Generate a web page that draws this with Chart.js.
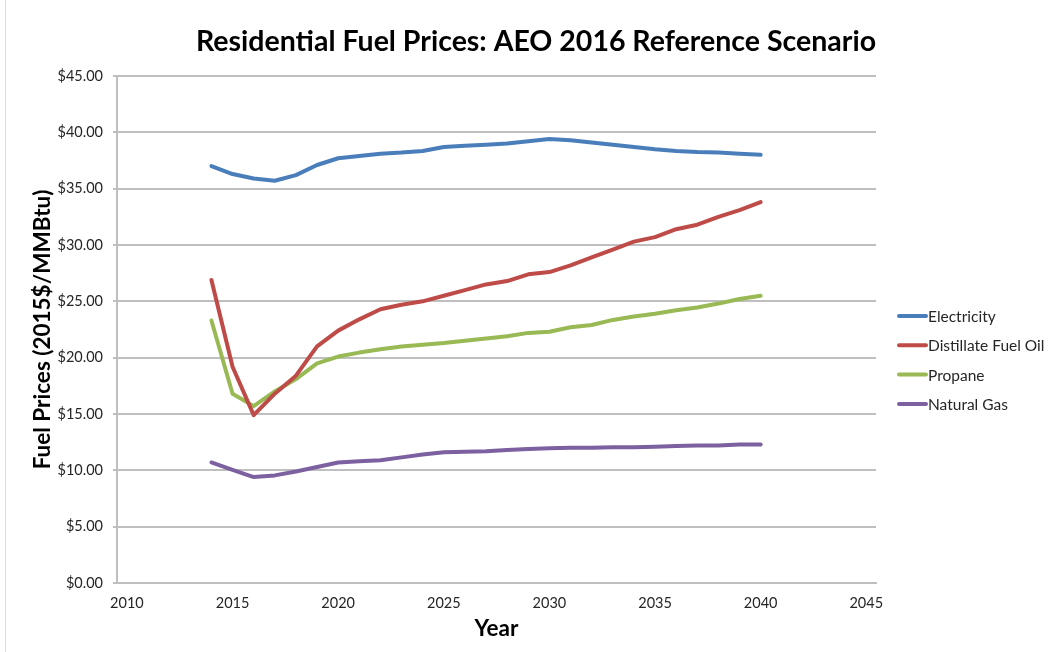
<!DOCTYPE html>
<html>
<head>
<meta charset="utf-8">
<script src="https://cdn.jsdelivr.net/npm/chart.js@4"></script>
<style>
  body { margin: 0; background: #fff; }
  #wrap { position: relative; width: 1053px; height: 652px; }
  #edge { position: absolute; left: 5px; top: 0; width: 1px; height: 652px; background: #dcdcdc; }
</style>
</head>
<body>
<div id="wrap">
  <canvas id="chart" width="1053" height="652"></canvas>
  <div id="edge"></div>
</div>
<script>
// Data
const years = [2014, 2015, 2016, 2017, 2018, 2019, 2020, 2021, 2022, 2023, 2024, 2025, 2026,
               2027, 2028, 2029, 2030, 2031, 2032, 2033, 2034, 2035, 2036, 2037, 2038, 2039, 2040];
const electricity = [37.0, 36.3, 35.9, 35.7, 36.2, 37.1, 37.7, 37.9, 38.1, 38.2, 38.35, 38.7, 38.8,
                     38.9, 39.0, 39.2, 39.4, 39.3, 39.1, 38.9, 38.7, 38.5, 38.35, 38.25, 38.2, 38.1, 38.0];
const distillate = [26.9, 19.2, 14.9, 16.8, 18.4, 21.0, 22.4, 23.4, 24.3, 24.7, 25.0, 25.5, 26.0,
                    26.5, 26.8, 27.4, 27.6, 28.2, 28.9, 29.6, 30.3, 30.7, 31.4, 31.8, 32.5, 33.1, 33.8];
const propane = [23.3, 16.8, 15.7, 17.0, 18.1, 19.5, 20.1, 20.45, 20.75, 21.0, 21.15, 21.3, 21.5,
                 21.7, 21.9, 22.2, 22.3, 22.7, 22.9, 23.35, 23.65, 23.9, 24.2, 24.45, 24.8, 25.2, 25.5];
const naturalGas = [10.7, 10.05, 9.4, 9.55, 9.9, 10.3, 10.7, 10.8, 10.9, 11.15, 11.4, 11.6, 11.65,
                    11.7, 11.8, 11.9, 11.95, 12.0, 12.0, 12.05, 12.05, 12.1, 12.15, 12.2, 12.2, 12.3, 12.3];
const seriesNames = ['Electricity', 'Distillate Fuel Oil', 'Propane', 'Natural Gas'];
const seriesColors = ['#4a7ebb', '#be4b48', '#98b954', '#7d60a0'];
const xTicks = [2010, 2015, 2020, 2025, 2030, 2035, 2040, 2045];
const chartTitle = 'Residential Fuel Prices: AEO 2016 Reference Scenario';

const FONT = 'Lato, "Open Sans", sans-serif';
const TEXT = '#262626';
const GRID = '#bfbfbf';

function toPoints(values) {
    return years.map((y, i) => ({ x: y, y: values[i] }));
}

const datasets = [electricity, distillate, propane, naturalGas].map((vals, i) => ({
    label: seriesNames[i],
    data: toPoints(vals),
    borderColor: seriesColors[i],
    backgroundColor: seriesColors[i],
    borderWidth: 4,
    pointRadius: 0,
    tension: 0,
    borderCapStyle: 'round',
    borderJoinStyle: 'round'
}));

// Title (centred on the whole canvas) and legend on the right
const decorations = {
    id: 'decorations',
    afterDraw(chart) {
        const ctx = chart.ctx;
        ctx.save();
        ctx.fillStyle = '#000';
        ctx.font = 'bold 28.5px ' + FONT;
        ctx.textAlign = 'center';
        ctx.textBaseline = 'middle';
        ctx.fillText(chartTitle, 536, 42);

        ctx.textAlign = 'left';
        ctx.font = '15.5px ' + FONT;
        ctx.fillStyle = TEXT;
        chart.data.datasets.forEach((ds, i) => {
            const y = 316 + i * 29.3;
            ctx.strokeStyle = ds.borderColor;
            ctx.lineWidth = 4;
            ctx.lineCap = 'round';
            ctx.beginPath();
            ctx.moveTo(899, y);
            ctx.lineTo(926, y);
            ctx.stroke();
            ctx.fillText(ds.label, 928, y + 1);
        });
        ctx.restore();
    }
};

new Chart(document.getElementById('chart'), {
    type: 'line',
    data: { datasets },
    plugins: [decorations],
    options: {
        responsive: false,
        animation: false,
        layout: { padding: { left: 0, right: 177, top: 76, bottom: 0 } },
        plugins: {
            legend: { display: false },
            tooltip: { enabled: false },
            title: { display: false }
        },
        scales: {
            x: {
                type: 'linear',
                min: 2009.53,
                max: 2045.46,
                afterBuildTicks(scale) {
                    scale.ticks = xTicks.map(v => ({ value: v }));
                },
                afterFit(scale) { scale.height = 69; },
                grid: { display: false, drawTicks: false },
                border: { display: true, color: GRID, width: 2 },
                ticks: {
                    color: TEXT,
                    font: { family: FONT, size: 14.5 },
                    padding: 12,
                    maxRotation: 0,
                    callback: v => String(v)
                },
                title: {
                    display: true,
                    text: 'Year',
                    color: '#000',
                    font: { family: FONT, size: 22.5, weight: 'bold' },
                    padding: { top: 4, bottom: 9.5 }
                }
            },
            y: {
                min: 0,
                max: 45,
                afterFit(scale) { scale.width = 117; },
                ticks: {
                    stepSize: 5,
                    color: TEXT,
                    font: { family: FONT, size: 14.5 },
                    padding: 10,
                    callback: v => '$' + v.toFixed(2)
                },
                grid: { color: GRID, lineWidth: 2, tickLength: 4 },
                border: { display: true, color: GRID, width: 2 },
                title: {
                    display: true,
                    text: 'Fuel Prices (2015$/MMBtu)',
                    color: '#000',
                    font: { family: FONT, size: 22.5, weight: 'bold' },
                    padding: { top: 29, bottom: 0 }
                }
            }
        }
    }
});
</script>
</body>
</html>
